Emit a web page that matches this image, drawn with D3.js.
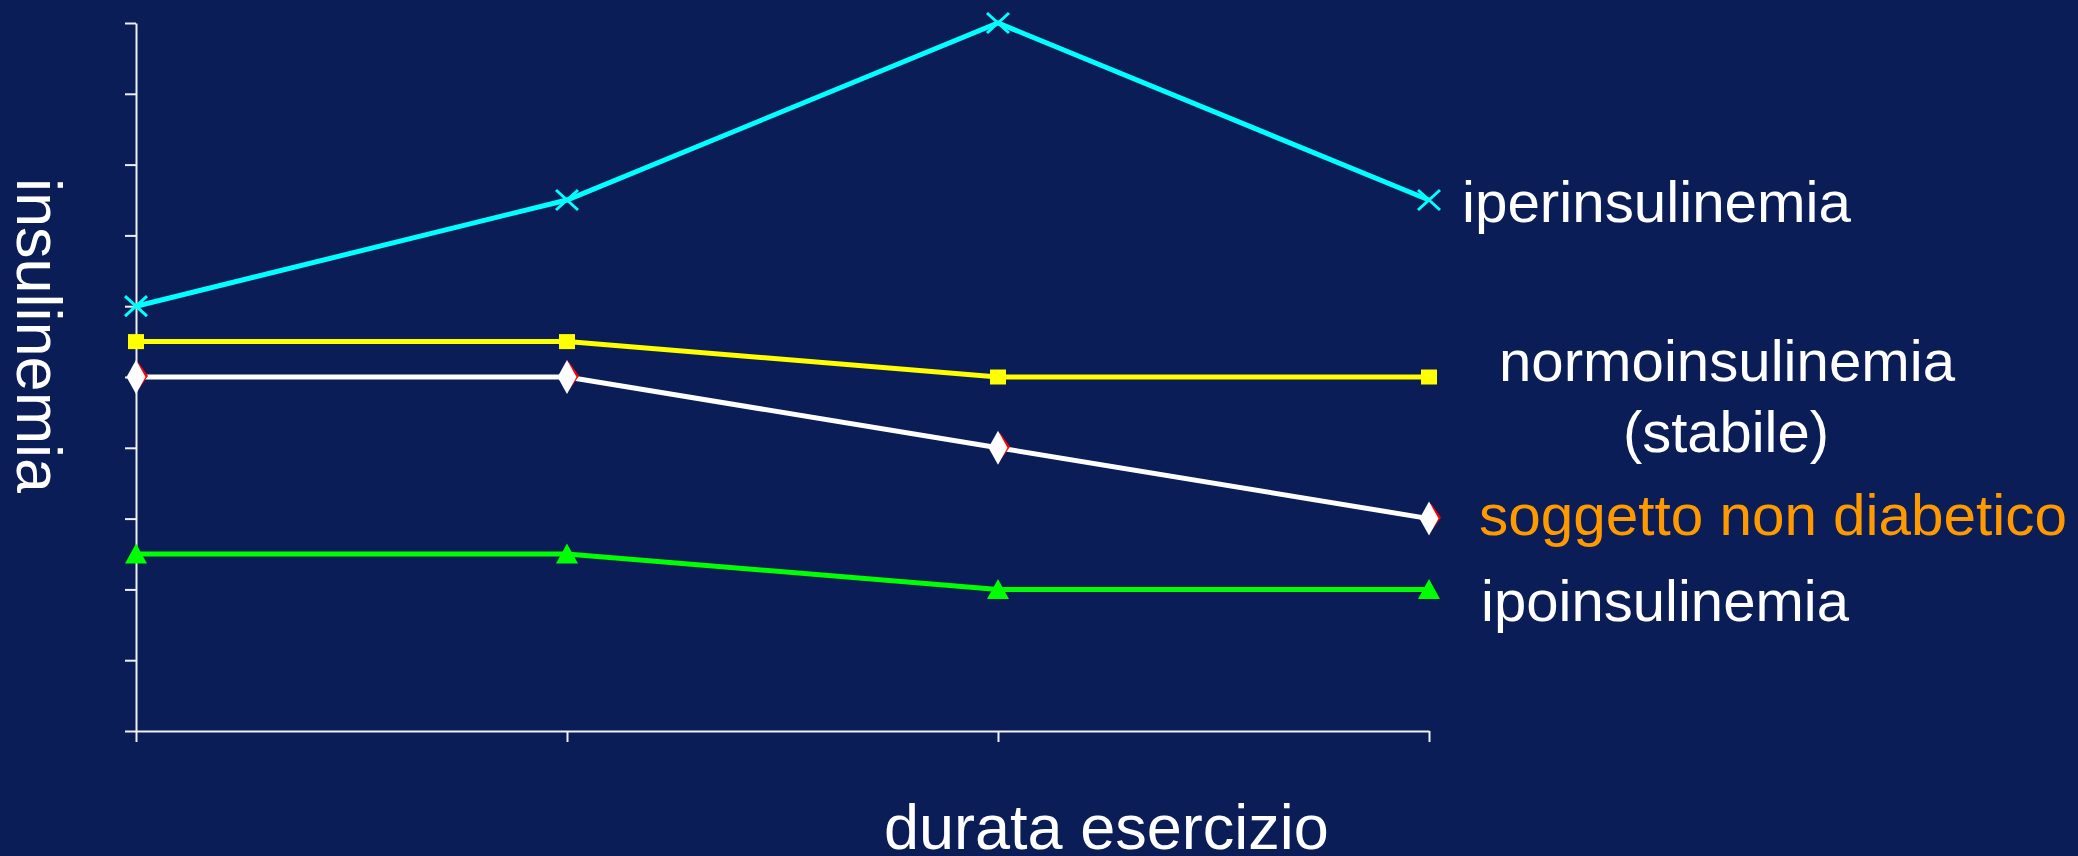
<!DOCTYPE html>
<html>
<head>
<meta charset="utf-8">
<script src="https://cdn.jsdelivr.net/npm/d3@7"></script>
<style>
  html, body { margin: 0; padding: 0; background: #0b1d57; }
  svg { display: block; }
  text { font-family: "Liberation Sans", Arial, sans-serif; }
</style>
</head>
<body>
<script>
// steps along "durata esercizio" (no labels on the original axis)
const steps = [0, 1, 2, 3];

// insulinemia, arbitrary units 0..10
const iperValues = [6, 7.5, 10, 7.5];
const normoValues = [5.5, 5.5, 5, 5];
const nonDiabValues = [5, 5, 4, 3];
const ipoValues = [2.5, 2.5, 2, 2];

const yTicks = d3.range(0, 11);

const series = [
  { name: "iper", values: iperValues, color: "#00ffff", marker: "cross" },
  { name: "normo", values: normoValues, color: "#ffff00", marker: "square" },
  { name: "nondiab", values: nonDiabValues, color: "#ffffff", marker: "diamond" },
  { name: "ipo", values: ipoValues, color: "#00ff00", marker: "triangle" },
];

const width = 2078;
const height = 856;

const svg = d3
  .select("body")
  .append("svg")
  .attr("width", width)
  .attr("height", height);

svg.append("rect").attr("width", width).attr("height", height).attr("fill", "#0b1d57");

const x = d3.scalePoint().domain(steps).range([136, 1429]);
const y = d3.scaleLinear().domain([0, 10]).range([731, 23]);

// axes, ticks only
const yAxis = svg
  .append("g")
  .attr("transform", `translate(${x(0)},0)`)
  .call(d3.axisLeft(y).tickValues(yTicks).tickSize(11).tickSizeOuter(0).tickFormat(""));

const xAxis = svg
  .append("g")
  .attr("transform", `translate(0,${y(0)})`)
  .call(d3.axisBottom(x).tickSize(11).tickSizeOuter(0).tickFormat(""));

[xAxis, yAxis].forEach((g) => {
  g.select(".domain").attr("stroke", "#eef0f6").attr("stroke-width", 2);
  g.selectAll(".tick line").attr("stroke", "#eef0f6").attr("stroke-width", 2);
});

const line = d3
  .line()
  .x((d, i) => x(steps[i]))
  .y((d) => y(d));

svg
  .append("g")
  .selectAll("path")
  .data(series)
  .join("path")
  .attr("d", (s) => line(s.values))
  .attr("fill", "none")
  .attr("stroke", (s) => s.color)
  .attr("stroke-width", 5);

// markers
series.forEach((s) => {
  const g = svg.append("g");
  const pts = g
    .selectAll("g")
    .data(s.values)
    .join("g")
    .attr("transform", (d, i) => `translate(${x(steps[i])},${y(d)})`);

  if (s.marker === "cross") {
    pts.append("path")
      .attr("d", "M-11,-10L11,10M-11,10L11,-10")
      .attr("stroke", s.color)
      .attr("stroke-width", 3);
  } else if (s.marker === "square") {
    pts.append("rect")
      .attr("x", -8).attr("y", -7.5)
      .attr("width", 16).attr("height", 15)
      .attr("fill", s.color);
  } else if (s.marker === "diamond") {
    pts.append("path")
      .attr("d", "M2,-15L12,-1L2,13L-8,-1Z")
      .attr("fill", "#ff0000");
    pts.append("path")
      .attr("d", "M0,-17L9.5,0L0,17L-9.5,0Z")
      .attr("fill", s.color);
  } else if (s.marker === "triangle") {
    pts.append("path")
      .attr("d", "M0,-10.5L11,9.5L-11,9.5Z")
      .attr("fill", s.color);
  }
});

// series labels on the right
const labels = [
  { text: "iperinsulinemia", x: 1462, y: 222, len: 389, color: "#ffffff" },
  { text: "normoinsulinemia", x: 1499, y: 381, len: 456, color: "#ffffff" },
  { text: "(stabile)", x: 1623, y: 452, len: 206, color: "#ffffff" },
  { text: "soggetto non diabetico", x: 1479, y: 535, len: 588, color: "#ff9900" },
  { text: "ipoinsulinemia", x: 1481, y: 621, len: 368, color: "#ffffff" },
];

svg
  .append("g")
  .selectAll("text")
  .data(labels)
  .join("text")
  .attr("x", (d) => d.x)
  .attr("y", (d) => d.y)
  .attr("textLength", (d) => d.len)
  .attr("lengthAdjust", "spacingAndGlyphs")
  .attr("fill", (d) => d.color)
  .style("font-size", "58px")
  .text((d) => d.text);

// axis titles
svg
  .append("text")
  .attr("x", 884)
  .attr("y", 849)
  .attr("fill", "#ffffff")
  .style("font-size", "63px")
  .text("durata esercizio");

svg
  .append("text")
  .attr("transform", "translate(17,178) rotate(90)")
  .attr("fill", "#ffffff")
  .style("font-size", "63px")
  .text("insulinemia");
</script>
</body>
</html>
